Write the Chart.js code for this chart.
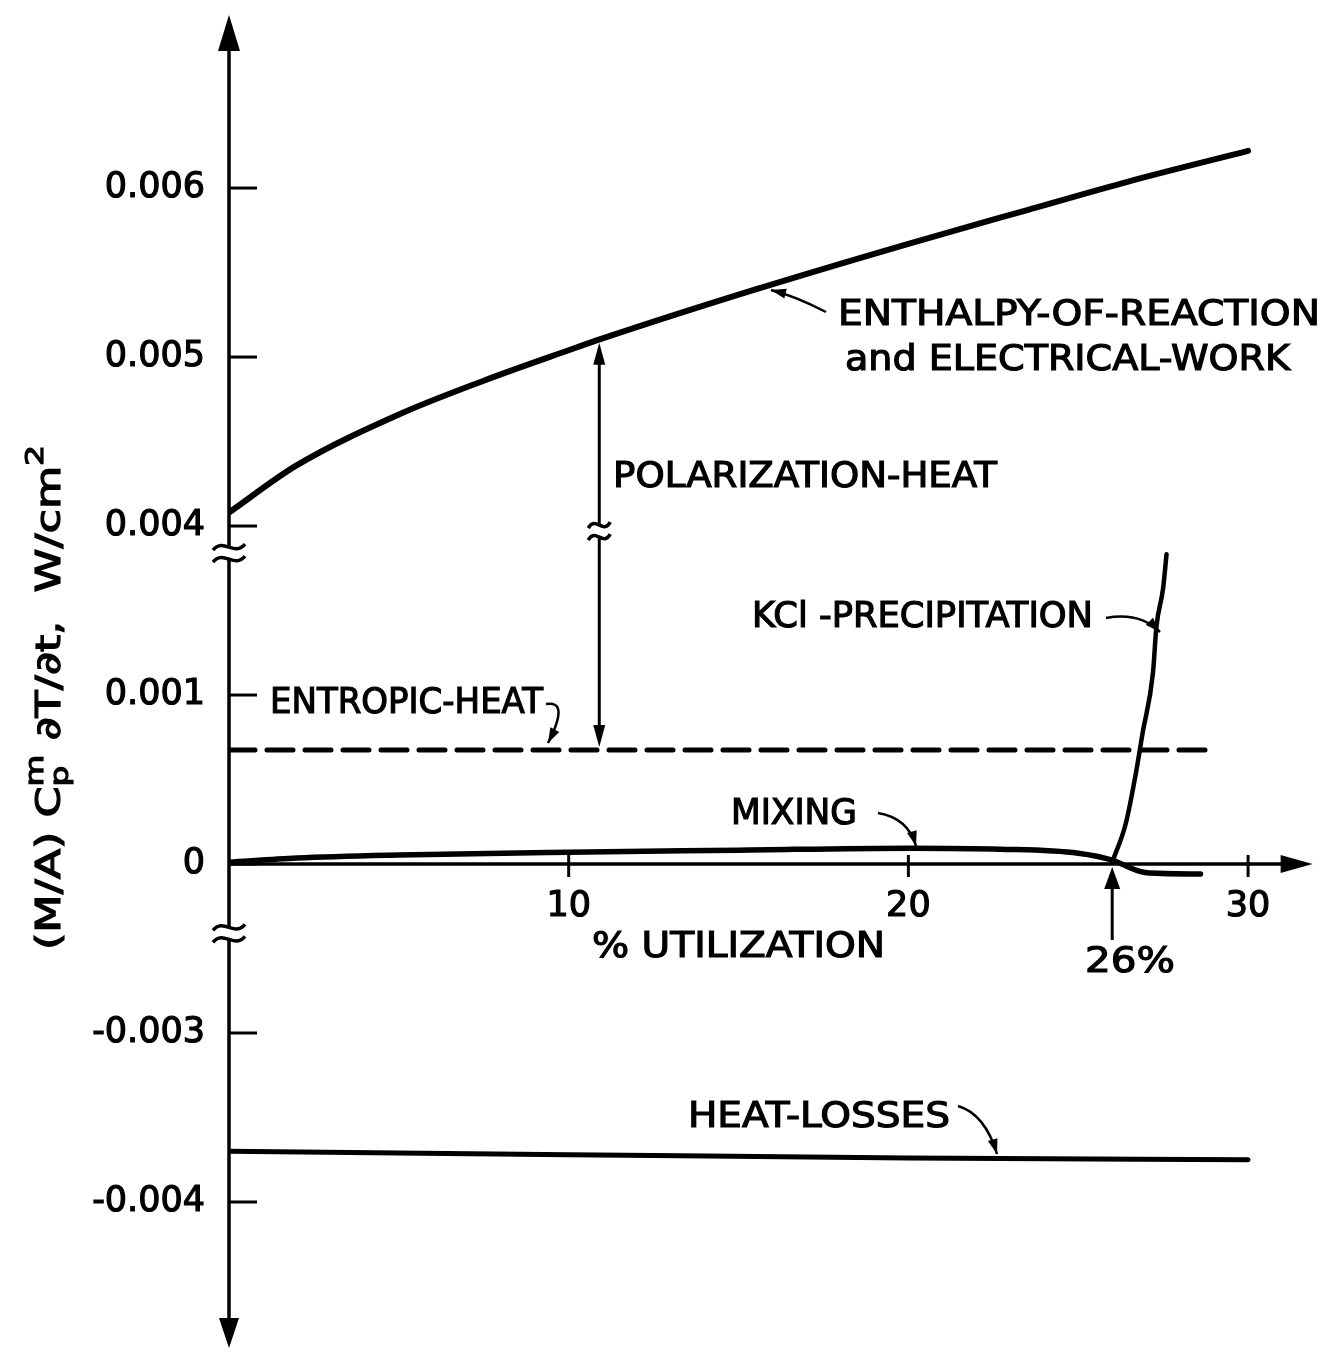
<!DOCTYPE html>
<html>
<head>
<meta charset="utf-8">
<script src="https://cdn.jsdelivr.net/npm/chart.js@4.4.1/dist/chart.umd.min.js"></script>
<style>
html, body { margin: 0; padding: 0; background: #fff; }
#wrap { width: 1327px; height: 1354px; }
</style>
</head>
<body>
<div id="wrap"><canvas id="heatChart" width="1327" height="1354"></canvas></div>
<script>
// values (x = % utilization, y = W/cm2)
const enthalpyX = [0, 2, 5, 7.5, 10, 11, 15.5, 20, 23.5, 26.5, 30];
const enthalpyY = [0.00408, 0.00436, 0.00466, 0.00486, 0.00504, 0.00511, 0.00540, 0.00567, 0.00587, 0.00604, 0.00622];
const entropicX = [0, 29];
const entropicY = [0.000675, 0.000675];
const mixingX = [0, 2, 5, 10, 15, 20, 22.7, 25, 26, 26.7, 27.1, 28.6];
const mixingY = [0.00001, 0.000035, 0.000053, 0.00007, 0.000082, 0.000094, 0.000088, 0.000064, 0.000023, -0.000107, -0.00016, -0.000178];
const kclX = [26, 26.4, 26.7, 26.9, 27.2, 27.3, 27.5, 27.6];
const kclY = [0.00001, 0.00024, 0.00054, 0.00078, 0.00139, 0.0022, 0.0029, 0.0035];
const lossX = [0, 10, 20, 30];
const lossY = [-0.00370, -0.00372, -0.00374, -0.00375];

const yTickValues = [0.006, 0.005, 0.004, 0.001, 0, -0.003, -0.004];
const yTickLabels = ['0.006', '0.005', '0.004', '0.001', '0', '-0.003', '-0.004'];
const xTickValues = [10, 20, 30];
const xTickLabels = ['10', '20', '30'];
const polarizationX = 10.9;
const utilizationMark = 26;

const FONT = '"DejaVu Sans", sans-serif';

// broken y axis: every labelled tick gets the same spacing on the page
function toAxis(v) {
    if (v >= 0.004) return v / 0.001;
    if (v >= 0.001) return 3 + (v - 0.001) / 0.003;
    if (v >= 0) return 2 + v / 0.001;
    if (v >= -0.003) return 2 + v / 0.003;
    return 1 + (v + 0.003) / 0.001;
}

function points(xs, ys) {
    return xs.map((x, i) => ({ x: x, y: toAxis(ys[i]) }));
}

function interp(xs, ys, x) {
    for (let i = 0; i < xs.length - 1; i++) {
        if (x >= xs[i] && x <= xs[i + 1]) {
            const t = (x - xs[i]) / (xs[i + 1] - xs[i]);
            return ys[i] + t * (ys[i + 1] - ys[i]);
        }
    }
    return ys[ys.length - 1];
}

function arrowHead(ctx, x, y, angle, len, half) {
    ctx.beginPath();
    ctx.moveTo(x, y);
    ctx.lineTo(x - len * Math.cos(angle) + half * Math.sin(angle), y - len * Math.sin(angle) - half * Math.cos(angle));
    ctx.lineTo(x - len * Math.cos(angle) - half * Math.sin(angle), y - len * Math.sin(angle) + half * Math.cos(angle));
    ctx.closePath();
    ctx.fill();
}

function leader(ctx, x1, y1, cx, cy, x2, y2) {
    ctx.lineWidth = 2.5;
    ctx.beginPath();
    ctx.moveTo(x1, y1);
    ctx.quadraticCurveTo(cx, cy, x2, y2);
    ctx.stroke();
    arrowHead(ctx, x2, y2, Math.atan2(y2 - cy, x2 - cx), 15, 5);
}

function fitText(ctx, text, x, y, width, size) {
    ctx.save();
    ctx.font = size + 'px ' + FONT;
    const w = ctx.measureText(text).width;
    ctx.translate(x, y);
    ctx.scale(width / w, 1);
    ctx.textBaseline = 'alphabetic';
    ctx.lineWidth = 1.2;
    ctx.fillText(text, 0, 0);
    ctx.strokeText(text, 0, 0);
    ctx.restore();
}

function breakMark(ctx, x, y, w) {
    ctx.save();
    ctx.fillStyle = '#fff';
    ctx.fillRect(x - 5, y - 6, 10, 12);
    ctx.fillStyle = '#000';
    ctx.lineWidth = 3.5;
    [-6, 6].forEach(off => {
        ctx.beginPath();
        ctx.moveTo(x - w, y + off + 3);
        ctx.bezierCurveTo(x - w / 3, y + off - 10, x + w / 3, y + off + 10, x + w, y + off - 3);
        ctx.stroke();
    });
    ctx.restore();
}

function drawYTitle(ctx, cx, bottom, length) {
    const big = 34, small = 25;
    const parts = [
        { t: '(M/A) C', s: big, dy: 0 },
        { t: 'p', s: small, dy: 8, t2: 'm', dy2: -17 },
        { t: ' \u2202T/\u2202t,  W/cm', s: big, dy: 0 },
        { t: '2', s: small, dy: -17 }
    ];
    let total = 0;
    parts.forEach(p => {
        ctx.font = p.s + 'px ' + FONT;
        p.w = ctx.measureText(p.t).width;
        if (p.t2) p.w = Math.max(p.w, ctx.measureText(p.t2).width);
        total += p.w;
    });
    ctx.save();
    ctx.translate(cx, bottom);
    ctx.rotate(-Math.PI / 2);
    ctx.scale(length / total, 1);
    ctx.textBaseline = 'alphabetic';
    ctx.lineWidth = 1.2;
    let pos = 0;
    parts.forEach(p => {
        ctx.font = p.s + 'px ' + FONT;
        ctx.fillText(p.t, pos, p.dy);
        ctx.strokeText(p.t, pos, p.dy);
        if (p.t2) {
            ctx.fillText(p.t2, pos, p.dy2);
            ctx.strokeText(p.t2, pos, p.dy2);
        }
        pos += p.w;
    });
    ctx.restore();
}

const figurePlugin = {
    id: 'figure',
    beforeDatasetsDraw(chart) {
        const ctx = chart.ctx;
        const xs = chart.scales.x, ys = chart.scales.y;
        const area = chart.chartArea;
        const x0 = xs.getPixelForValue(0);
        const y0 = ys.getPixelForValue(toAxis(0));
        ctx.save();
        ctx.strokeStyle = '#000';
        ctx.fillStyle = '#000';

        // y axis with arrows at both ends
        ctx.lineWidth = 3.5;
        ctx.beginPath();
        ctx.moveTo(x0, area.top + 30);
        ctx.lineTo(x0, area.bottom - 25);
        ctx.stroke();
        arrowHead(ctx, x0, area.top, -Math.PI / 2, 36, 11);
        arrowHead(ctx, x0, area.bottom, Math.PI / 2, 30, 10);

        // tick marks point into the plot
        ctx.lineWidth = 3;
        yTickValues.forEach(v => {
            const y = ys.getPixelForValue(toAxis(v));
            ctx.beginPath();
            ctx.moveTo(x0, y);
            ctx.lineTo(x0 + 28, y);
            ctx.stroke();
        });

        // x axis drawn through zero
        const xEnd = xs.getPixelForValue(31.9);
        ctx.lineWidth = 3.5;
        ctx.beginPath();
        ctx.moveTo(x0, y0);
        ctx.lineTo(xEnd - 25, y0);
        ctx.stroke();
        arrowHead(ctx, xEnd, y0, 0, 32, 9);
        ctx.lineWidth = 3;
        xTickValues.forEach((v, i) => {
            const x = xs.getPixelForValue(v);
            ctx.beginPath();
            ctx.moveTo(x, y0 - 9);
            ctx.lineTo(x, y0 + 13);
            ctx.stroke();
            ctx.font = '35px ' + FONT;
            ctx.textAlign = 'center';
            ctx.lineWidth = 1.2;
            ctx.fillText(xTickLabels[i], x, y0 + 52);
            ctx.strokeText(xTickLabels[i], x, y0 + 52);
            ctx.lineWidth = 3;
        });
        ctx.textAlign = 'left';

        // breaks in the y axis
        breakMark(ctx, x0, ys.getPixelForValue(3.84), 16);
        breakMark(ctx, x0, ys.getPixelForValue(1.59), 16);

        drawYTitle(ctx, 60, 950, 505);
        ctx.restore();
    },
    afterDatasetsDraw(chart) {
        const ctx = chart.ctx;
        const xs = chart.scales.x, ys = chart.scales.y;
        const y0 = ys.getPixelForValue(toAxis(0));
        ctx.save();
        ctx.strokeStyle = '#000';
        ctx.fillStyle = '#000';

        // polarization-heat double arrow between the two curves
        const px = xs.getPixelForValue(polarizationX);
        const pTop = ys.getPixelForValue(toAxis(interp(enthalpyX, enthalpyY, polarizationX))) + 3;
        const pBot = ys.getPixelForValue(toAxis(entropicY[0])) - 3;
        ctx.lineWidth = 3;
        ctx.beginPath();
        ctx.moveTo(px, pTop + 18);
        ctx.lineTo(px, pBot - 18);
        ctx.stroke();
        arrowHead(ctx, px, pTop, -Math.PI / 2, 22, 6);
        arrowHead(ctx, px, pBot, Math.PI / 2, 22, 6);
        breakMark(ctx, px, ys.getPixelForValue(3.97), 11);

        // 26 % marker arrow
        const ux = xs.getPixelForValue(utilizationMark);
        ctx.lineWidth = 3;
        ctx.beginPath();
        ctx.moveTo(ux, y0 + 76);
        ctx.lineTo(ux, y0 + 20);
        ctx.stroke();
        arrowHead(ctx, ux, y0 + 3, -Math.PI / 2, 22, 8);

        // leaders from the labels to the curves
        leader(ctx, 826, 312, 795, 296, 771, 290);
        leader(ctx, 1106, 618, 1140, 612, 1160, 632);
        leader(ctx, 546, 704, 570, 700, 548, 743);
        leader(ctx, 878, 813, 908, 818, 916, 846);
        leader(ctx, 958, 1106, 985, 1114, 997, 1154);

        // labels
        fitText(ctx, 'ENTHALPY-OF-REACTION', 838, 325, 482, 35);
        fitText(ctx, 'and ELECTRICAL-WORK', 845, 370, 445, 35);
        fitText(ctx, 'POLARIZATION-HEAT', 613, 487, 384, 35);
        fitText(ctx, 'KCl -PRECIPITATION', 752, 627, 341, 35);
        fitText(ctx, 'ENTROPIC-HEAT', 270, 713, 273, 35);
        fitText(ctx, 'MIXING', 731, 824, 126, 35);
        fitText(ctx, '% UTILIZATION', 592, 957, 293, 35);
        fitText(ctx, '26%', 1085, 972, 90, 35);
        fitText(ctx, 'HEAT-LOSSES', 688, 1127, 262, 35);
        ctx.restore();
    }
};

const heatChart = new Chart(document.getElementById('heatChart'), {
    type: 'scatter',
    data: {
        datasets: [
            { label: 'Enthalpy-of-reaction and electrical-work', data: points(enthalpyX, enthalpyY), showLine: true, borderWidth: 6 },
            { label: 'Entropic-heat', data: points(entropicX, entropicY), showLine: true, borderWidth: 5, borderDash: [26, 12] },
            { label: 'Mixing', data: points(mixingX, mixingY), showLine: true, borderWidth: 5.5 },
            { label: 'KCl-precipitation', data: points(kclX, kclY), showLine: true, borderWidth: 4.5 },
            { label: 'Heat-losses', data: points(lossX, lossY), showLine: true, borderWidth: 5 }
        ]
    },
    options: {
        responsive: false,
        animation: false,
        devicePixelRatio: 1,
        layout: { padding: { top: 15, bottom: 6, right: 11, left: 0 } },
        plugins: {
            legend: { display: false },
            tooltip: { enabled: false }
        },
        elements: {
            point: { radius: 0 },
            line: { borderColor: '#000', cubicInterpolationMode: 'monotone', borderCapStyle: 'round' }
        },
        scales: {
            x: { type: 'linear', min: 0, max: 32, display: false },
            y: {
                type: 'linear',
                min: -0.864,
                max: 7.024,
                afterBuildTicks: s => { s.ticks = yTickValues.map(v => ({ value: toAxis(v) })); },
                afterFit: s => { s.width = 229; s.paddingTop = 0; s.paddingBottom = 0; },
                grid: { display: false, drawTicks: false },
                border: { display: false },
                ticks: {
                    autoSkip: false,
                    padding: 24,
                    color: '#000',
                    textStrokeColor: '#000',
                    textStrokeWidth: 1.2,
                    font: { family: 'DejaVu Sans', size: 35 },
                    callback: function (val) {
                        const i = yTickValues.findIndex(v => Math.abs(toAxis(v) - val) < 1e-6);
                        return i >= 0 ? yTickLabels[i] : '';
                    }
                }
            }
        }
    },
    plugins: [figurePlugin]
});
</script>
</body>
</html>
